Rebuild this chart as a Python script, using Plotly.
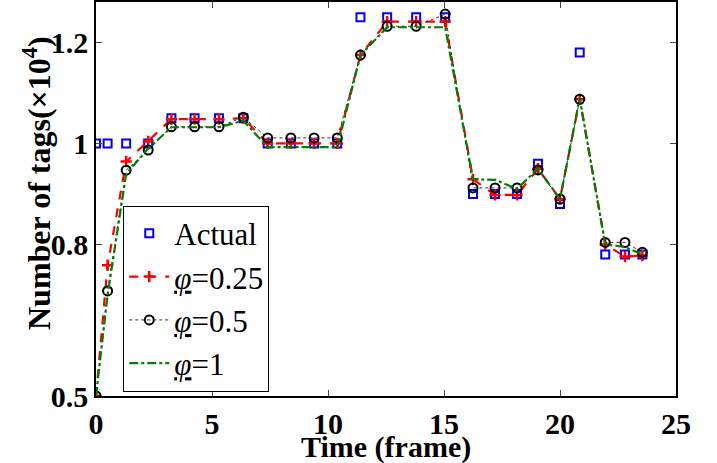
import plotly.graph_objects as go

# Frame times and tag counts (x10^4)
time = [0, 0.5, 1.3, 2.25, 3.25, 4.25, 5.3, 6.35, 7.4, 8.4, 9.4, 10.4, 11.4,
        12.55, 13.8, 15.05, 16.25, 17.2, 18.15, 19.05, 20.0, 20.85, 21.95, 22.8, 23.55]

actual = [1.0, 1.0, 1.0, 1.0, 1.05, 1.05, 1.05, 1.05, 1.0, 1.0, 1.0, 1.0, 1.25,
          1.25, 1.25, 1.25, 0.9, 0.9, 0.9, 0.96, 0.88, 1.18, 0.78, 0.78, 0.78]

phi_025 = [0.5, 0.759, 0.964, 1.004, 1.048, 1.048, 1.048, 1.05, 1.0, 1.0, 1.0, 1.0, 1.175,
           1.241, 1.241, 1.241, 0.929, 0.898, 0.898, 0.95, 0.89, 1.0875, 0.80, 0.776, 0.778]

phi_05 = [0.5, 0.708, 0.947, 0.987, 1.033, 1.033, 1.033, 1.052, 1.011, 1.011, 1.011, 1.011, 1.175,
          1.232, 1.232, 1.256, 0.912, 0.912, 0.912, 0.9475, 0.89, 1.0875, 0.804, 0.804, 0.7845]

phi_1 = [0.5, 0.70, 0.94, 0.99, 1.032, 1.032, 1.032, 1.045, 0.9925, 0.9925, 0.9925, 0.9925, 1.175,
         1.23, 1.23, 1.23, 0.929, 0.928, 0.91, 0.95, 0.89, 1.09, 0.80, 0.795, 0.78]

y_ticks = [0.5, 0.8, 1.0, 1.2]
y_tick_text = ["0.5", "0.8", "1", "1.2"]
x_ticks = [0, 5, 10, 15, 20, 25]

serif = "Liberation Serif"

fig = go.Figure()
fig.add_trace(go.Scatter(
    x=time, y=actual, mode="markers", name="Actual",
    marker=dict(symbol="square-open", size=8, color="#0000ff", line=dict(width=2)),
))
fig.add_trace(go.Scatter(
    x=time, y=phi_025, mode="lines+markers", name="<u><i>φ</i></u>=0.25",
    line=dict(color="#ff0000", width=2.2, dash="dash"),
    marker=dict(symbol="cross-thin-open", size=8, color="#ff0000", line=dict(width=2.5, color="#ff0000")),
))
fig.add_trace(go.Scatter(
    x=time, y=phi_05, mode="lines+markers", name="<u><i>φ</i></u>=0.5",
    line=dict(color="#333333", width=1, dash="dot"),
    marker=dict(symbol="circle-open", size=9, color="#000000", line=dict(width=2, color="#000000")),
))
fig.add_trace(go.Scatter(
    x=time, y=phi_1, mode="lines", name="<u><i>φ</i></u>=1",
    line=dict(color="#008000", width=2.2, dash="dashdot"),
))

tick_font = dict(family=serif, size=30, color="black", weight="bold")
title_font = dict(family=serif, size=30, color="black", weight="bold")

fig.update_layout(
    width=717, height=463,
    margin=dict(l=96, r=41, t=2, b=67),
    paper_bgcolor="white", plot_bgcolor="white",
    showlegend=True,
    legend=dict(
        x=0.047, y=0.011, xanchor="left", yanchor="bottom",
        bgcolor="white", bordercolor="black", borderwidth=1,
        font=dict(family=serif, size=31, color="black"),
        tracegroupgap=0, itemwidth=40,
    ),
    xaxis=dict(
        range=[0, 25], tickvals=x_ticks, ticks="inside", ticklen=6,
        showline=True, linecolor="black", linewidth=1.5, mirror="ticks",
        showgrid=False, zeroline=False, tickfont=tick_font,
        automargin=False,
    ),
    yaxis=dict(
        range=[0.5, 1.28], tickvals=y_ticks, ticktext=y_tick_text,
        ticks="inside", ticklen=6,
        showline=True, linecolor="black", linewidth=1.5, mirror="ticks",
        showgrid=False, zeroline=False, tickfont=tick_font,
        automargin=False,
    ),
    annotations=[
        dict(text="Time (frame)", xref="paper", yref="paper",
             x=0.5, y=-(447 - 396) / 394, xanchor="center", yanchor="middle",
             showarrow=False, font=title_font),
        dict(text="Number of tags(×10<sup>4</sup>)", xref="paper", yref="paper",
             x=-(96 - 37) / 580, y=(396 - 183) / 394, xanchor="center", yanchor="middle",
             textangle=-90, showarrow=False, font=dict(family=serif, size=32, color="black", weight="bold")),
    ],
)

fig.write_html("out.html")
